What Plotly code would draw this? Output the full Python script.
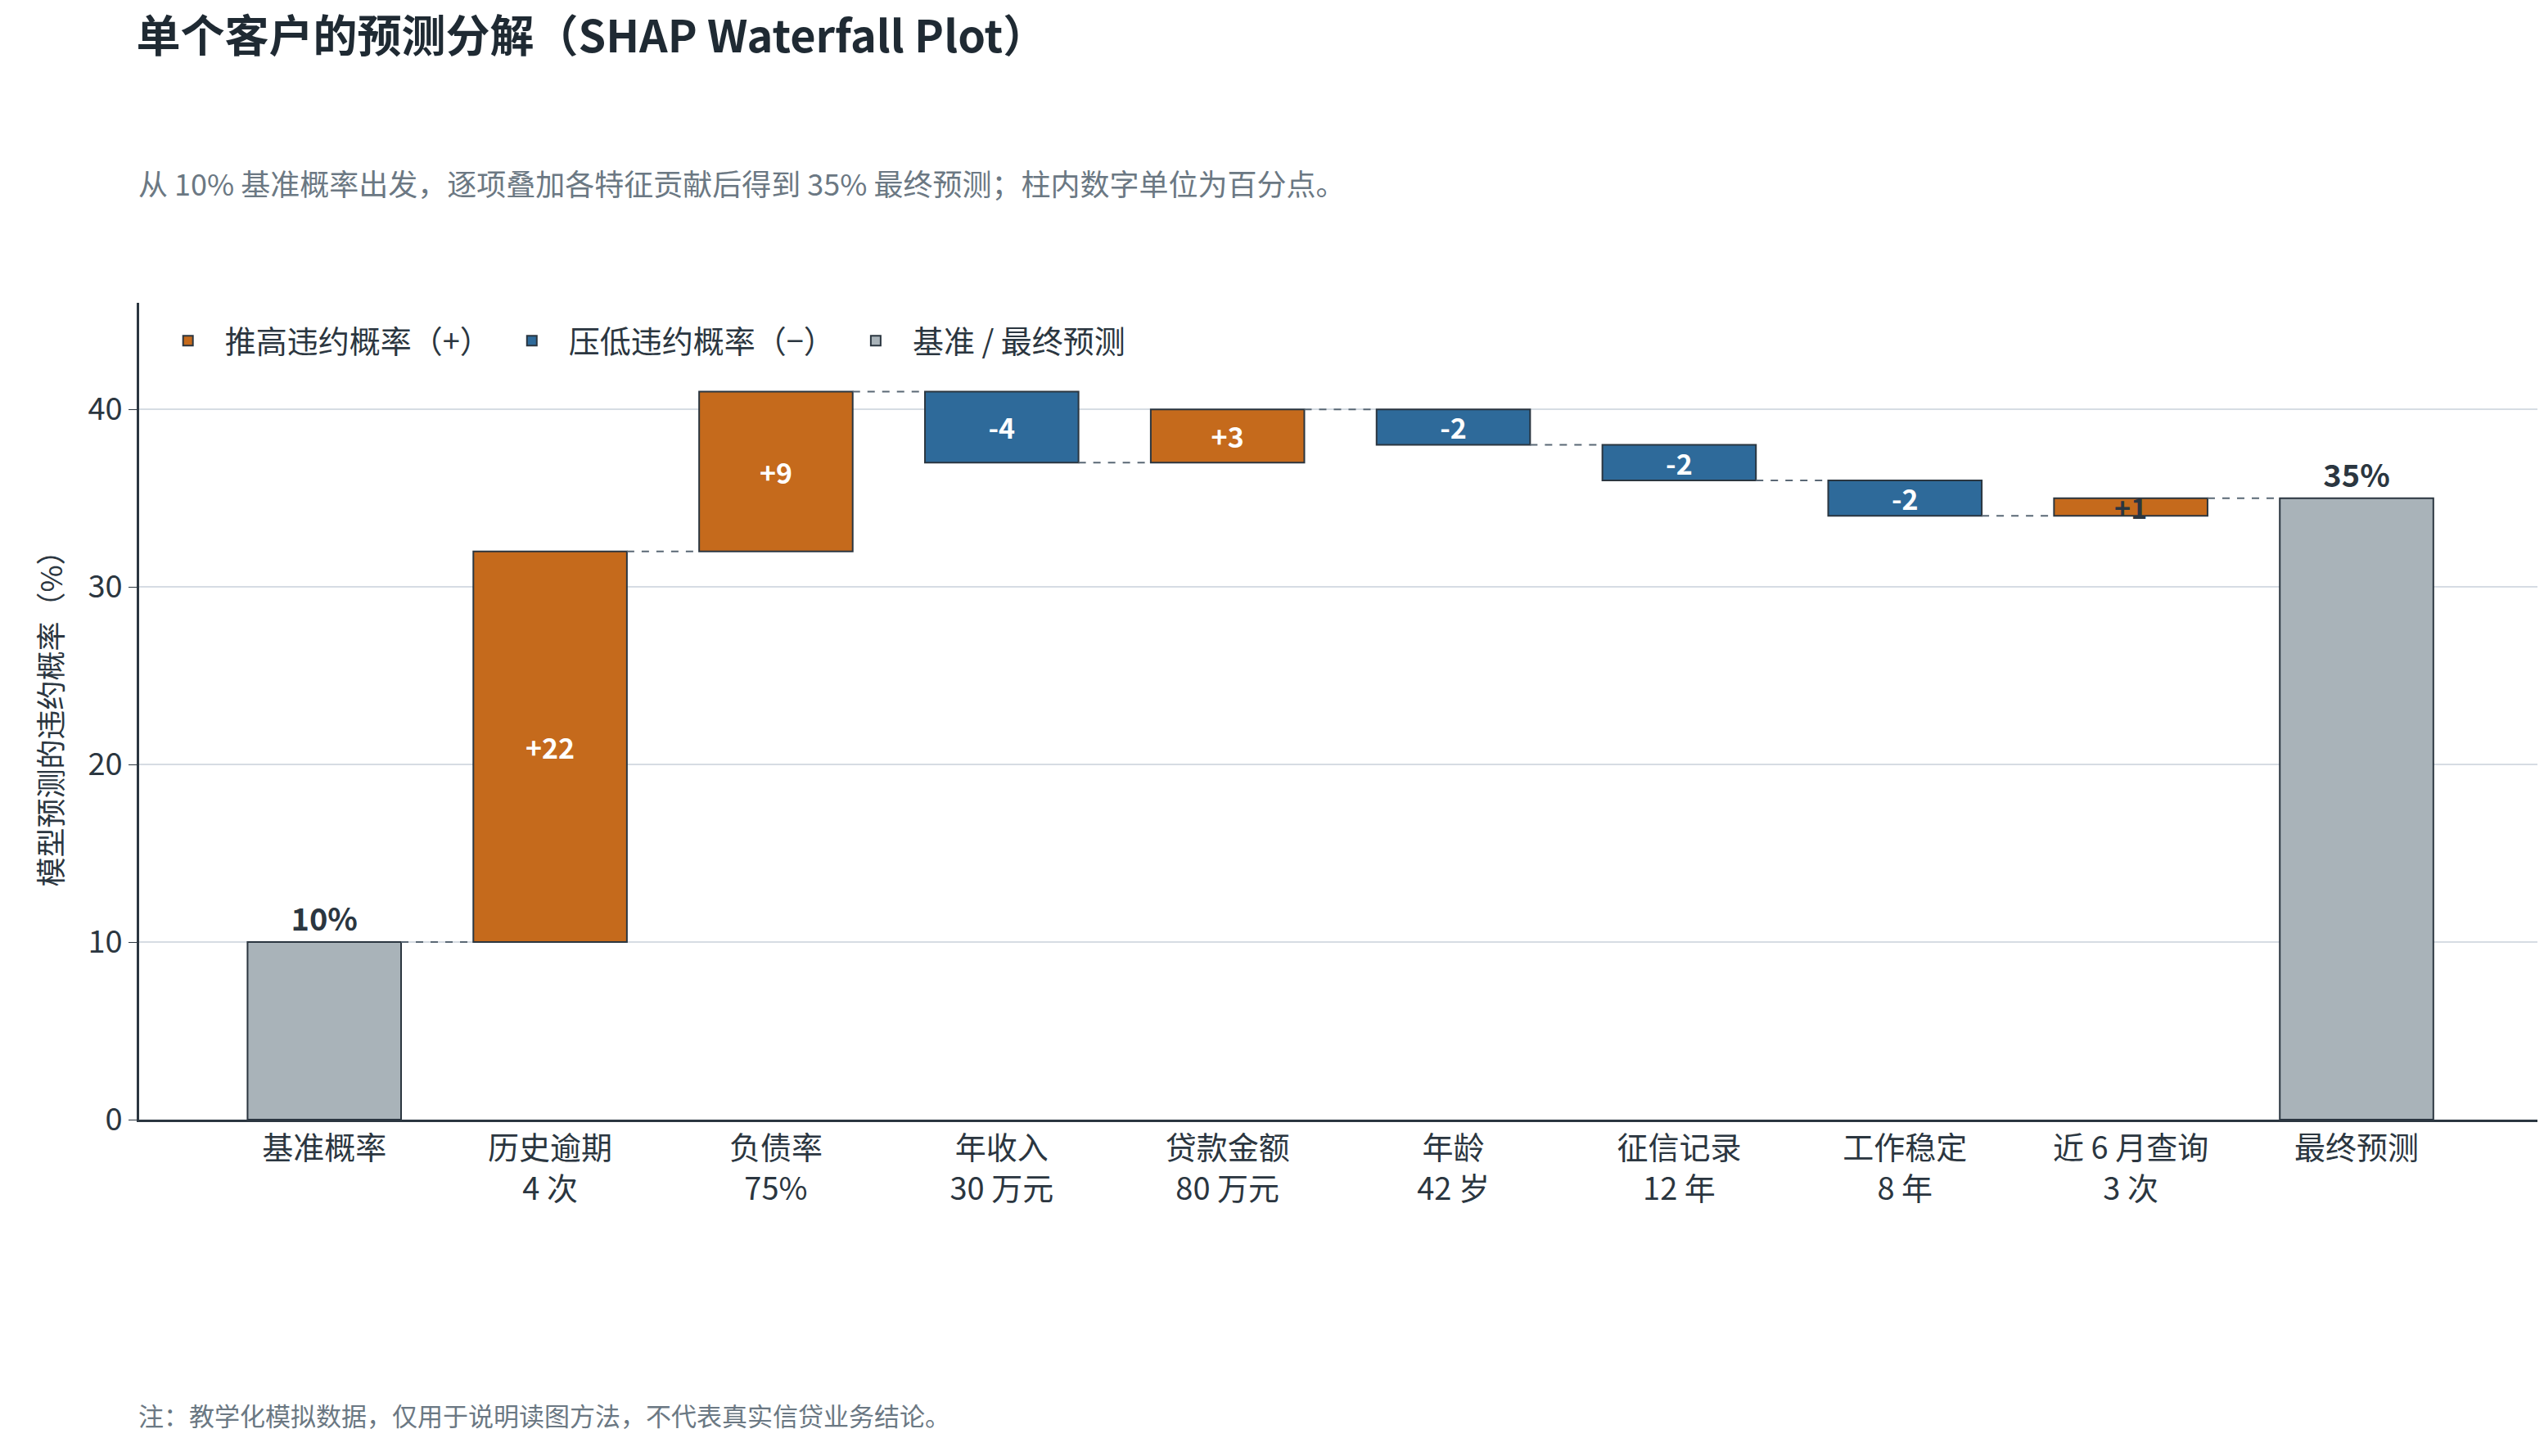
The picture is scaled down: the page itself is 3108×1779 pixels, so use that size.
import plotly.graph_objects as go

categories = ["基准概率", "历史逾期<br>4 次", "负债率<br>75%", "年收入<br>30 万元", "贷款金额<br>80 万元",
              "年龄<br>42 岁", "征信记录<br>12 年", "工作稳定<br>8 年", "近 6 月查询<br>3 次", "最终预测"]
base_value = 10
contribs = [22, 9, -4, 3, -2, -2, -2, 1]
final_value = 35

ORANGE = "#c56a1c"; BLUE = "#2e6a9a"; GRAY = "#a9b3b9"; DARK = "#2b3640"
FONT = "Noto Sans CJK SC"

levels = [base_value]
for c in contribs:
    levels.append(levels[-1] + c)

xs = list(range(len(categories)))
W = 0.68
fig = go.Figure()

pos_x, pos_y, pos_b, pos_t = [], [], [], []
neg_x, neg_y, neg_b, neg_t = [], [], [], []
for i, c in enumerate(contribs):
    start = levels[i]
    lab = f"{c:+d}"
    if c > 0:
        pos_x.append(i + 1); pos_y.append(c); pos_b.append(start); pos_t.append(lab)
    else:
        neg_x.append(i + 1); neg_y.append(-c); neg_b.append(start + c); neg_t.append(lab)

line = dict(color=DARK, width=2)
pos_colors = ["white" if abs(v) >= 2 else DARK for v in pos_y]
fig.add_bar(x=pos_x, y=pos_y, base=pos_b, width=W, marker=dict(color=ORANGE, line=line),
            name="推高违约概率（+）", text=pos_t, textposition="inside", insidetextanchor="middle",
            textangle=0, textfont=dict(color=pos_colors, size=34, family=FONT, weight="bold"),
            constraintext="none", cliponaxis=False)
fig.add_bar(x=neg_x, y=neg_y, base=neg_b, width=W, marker=dict(color=BLUE, line=line),
            name="压低违约概率（−）", text=neg_t, textposition="inside", insidetextanchor="middle",
            textangle=0, textfont=dict(color="white", size=34, family=FONT, weight="bold"),
            constraintext="none")
fig.add_bar(x=[0, len(categories) - 1], y=[base_value, final_value], base=[0, 0], width=W,
            marker=dict(color=GRAY, line=line), name="基准 / 最终预测",
            text=[f"{base_value}%", f"{final_value}%"], textposition="outside", textangle=0,
            textfont=dict(color=DARK, size=38, family=FONT, weight="bold"), cliponaxis=False)

for i in range(len(categories) - 1):
    y = levels[i]
    fig.add_shape(type="line", x0=i + W / 2, x1=i + 1 - W / 2, y0=y, y1=y, xref="x", yref="y",
                  line=dict(color="#5a6875", width=2, dash="dash"))

fig.update_layout(
    width=3108, height=1779, barmode="overlay", plot_bgcolor="white", paper_bgcolor="white",
    font=dict(family=FONT, color=DARK, size=36),
    margin=dict(l=162, r=8, t=362, b=419),
    title=dict(text="<b>单个客户的预测分解（SHAP Waterfall Plot）</b>", x=0.051, xanchor="left",
               y=0.99, yanchor="top", font=dict(size=54, color="#1f2a33")),
    legend=dict(orientation="h", x=0.005, y=0.985, xanchor="left", yanchor="top",
                font=dict(size=38), bgcolor="rgba(0,0,0,0)", itemwidth=80, traceorder="normal"),
    showlegend=True,
)
fig.add_annotation(text="从 10% 基准概率出发，逐项叠加各特征贡献后得到 35% 最终预测；柱内数字单位为百分点。",
                   xref="paper", yref="paper", x=-0.001, y=1.0, yshift=175, xanchor="left",
                   showarrow=False, font=dict(size=36, color="#6b7883"))
fig.add_annotation(text="注：教学化模拟数据，仅用于说明读图方法，不代表真实信贷业务结论。",
                   xref="paper", yref="paper", x=-0.001, y=0, yshift=-385, xanchor="left",
                   showarrow=False, font=dict(size=31, color="#6b7883"))
fig.update_xaxes(tickvals=xs, ticktext=categories, range=[-0.82, 9.83], showline=True,
                 linecolor=DARK, linewidth=2.5, ticks="", tickfont=dict(size=38))
fig.update_yaxes(range=[0, 46], tickvals=[0, 10, 20, 30, 40], showline=True, linecolor=DARK,
                 linewidth=2.5, ticks="outside", ticklen=10, tickcolor=DARK, gridcolor="#d6dce3",
                 gridwidth=2, zeroline=False, tickfont=dict(size=38),
                 title=dict(text="模型预测的违约概率（%）", font=dict(size=36), standoff=20))
fig.write_html("out.html")
